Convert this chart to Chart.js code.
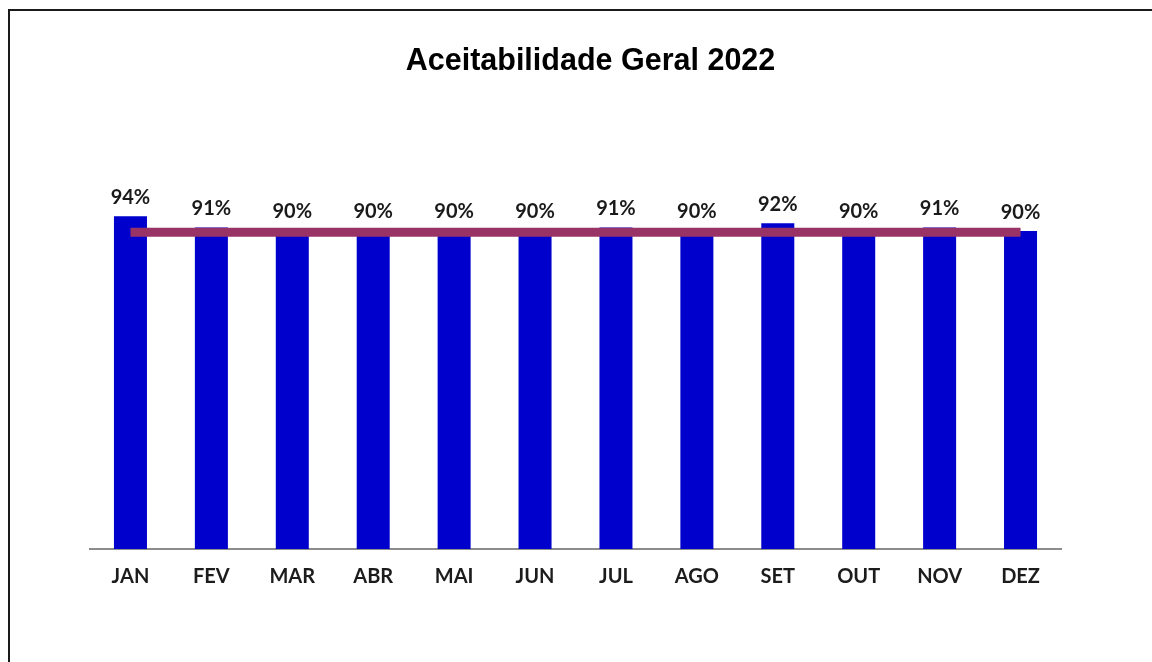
<!DOCTYPE html>
<html lang="pt">
<head>
    <meta charset="UTF-8">
    <title>Aceitabilidade Geral 2022</title>
    <script src="https://cdn.jsdelivr.net/npm/chart.js"></script>
    <style>
        body {
            margin: 0;
            background: #ffffff;
            overflow: hidden;
            width: 1152px;
            height: 662px;
        }
        .frame {
            position: absolute;
            left: 8px;
            top: 9px;
            width: 1200px;
            height: 700px;
            border: 2px solid #1a1a1a;
        }
        #chart {
            position: absolute;
            left: 0;
            top: 0;
        }
    </style>
</head>
<body>
    <div class="frame"></div>
    <canvas id="chart" width="1152" height="662"></canvas>

    <script>
        // data
        const months = ['JAN', 'FEV', 'MAR', 'ABR', 'MAI', 'JUN', 'JUL', 'AGO', 'SET', 'OUT', 'NOV', 'DEZ'];
        const acceptance = [94, 90.8, 90, 90, 90, 90, 90.8, 90, 92, 90, 90.8, 89.8];
        const goal = [89.5, 89.5, 89.5, 89.5, 89.5, 89.5, 89.5, 89.5, 89.5, 89.5, 89.5, 89.5];
        const chartTitle = 'Aceitabilidade Geral 2022';

        const labelFont = 'bold 20px Lato';

        // title and percent labels above each bar
        const barLabels = {
            id: 'barLabels',
            afterDatasetsDraw(chart) {
                const meta = chart.getDatasetMeta(1);
                const ctx = chart.ctx;
                ctx.save();
                ctx.fillStyle = '#000000';
                ctx.textAlign = 'center';
                ctx.textBaseline = 'alphabetic';
                ctx.font = 'bold 30.5px "Liberation Sans", Arial';
                ctx.fillText(chartTitle, 590.5, 69.5);

                ctx.font = labelFont;
                ctx.fillStyle = '#1a1a1a';
                ctx.textBaseline = 'middle';
                meta.data.forEach((bar, i) => {
                    ctx.fillText(Math.round(acceptance[i]) + '%', bar.x, bar.y - 19);
                });
                ctx.restore();
            }
        };

        new Chart(document.getElementById('chart'), {
            type: 'bar',
            data: {
                labels: months,
                datasets: [
                    {
                        type: 'line',
                        label: 'Meta',
                        data: goal,
                        borderColor: '#993366',
                        borderWidth: 9,
                        pointRadius: 0,
                        fill: false,
                        order: 0
                    },
                    {
                        label: 'Aceitabilidade',
                        data: acceptance,
                        backgroundColor: '#0000cc',
                        barPercentage: 0.408,
                        categoryPercentage: 1,
                        order: 1
                    }
                ]
            },
            options: {
                responsive: false,
                animation: false,
                layout: {
                    padding: { left: 90, right: 91, top: 195, bottom: 57 }
                },
                scales: {
                    x: {
                        grid: { display: false, drawTicks: false },
                        border: { display: true, color: '#8c8c8c', width: 2 },
                        ticks: {
                            color: '#1c1c1c',
                            padding: 16,
                            font: { family: 'Lato', weight: 'bold', size: 20 }
                        }
                    },
                    y: {
                        display: false,
                        min: 0,
                        max: 100
                    }
                },
                plugins: {
                    legend: { display: false },
                    tooltip: { enabled: false },
                    title: { display: false }
                }
            },
            plugins: [barLabels]
        });
    </script>
</body>
</html>
